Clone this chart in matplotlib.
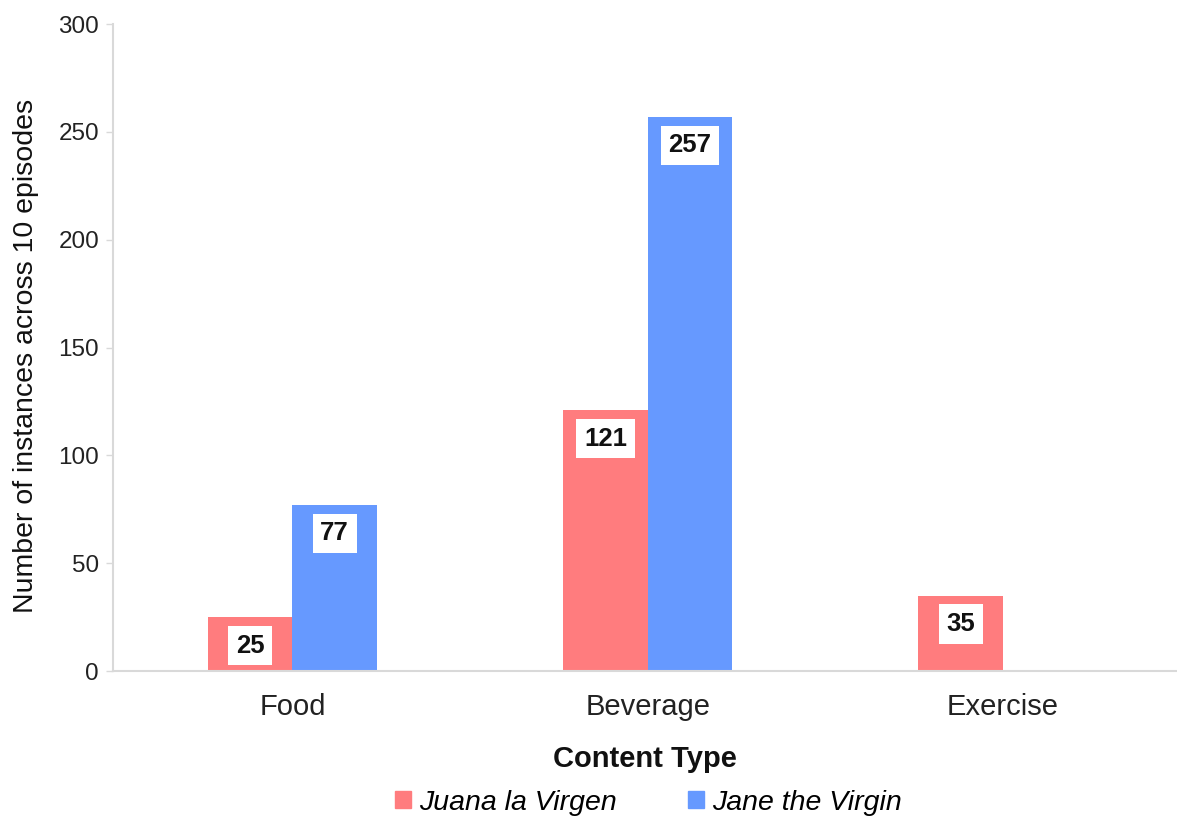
import matplotlib
matplotlib.use("Agg")
import matplotlib.pyplot as plt
import numpy as np
from matplotlib.patches import Patch

categories = ["Food", "Beverage", "Exercise"]
juana = [25, 121, 35]
jane = [77, 257, 0]
series_names = ["Juana la Virgen", "Jane the Virgin"]
yticks = [0, 50, 100, 150, 200, 250, 300]

red = "#FF7C7E"
blue = "#6699FF"

plt.rcParams['font.family'] = ['Liberation Sans', 'DejaVu Sans']

fig = plt.figure(figsize=(11.77, 8.21), dpi=100)
ax = fig.add_axes([0.096, 0.1827, 0.904, 0.788])

x = np.arange(len(categories))
w = 0.238
b1 = ax.bar(x - w / 2, juana, w, color=red)
b2 = ax.bar(x + w / 2, jane, w, color=blue)

for bars, vals in ((b1, juana), (b2, jane)):
    for rect, v in zip(bars, vals):
        if v <= 0:
            continue
        ax.annotate(str(v), (rect.get_x() + rect.get_width() / 2, v),
                    xytext=(0, -20.5), textcoords="offset points",
                    ha="center", va="center", fontsize=18.5, fontweight="bold",
                    color="#111111",
                    bbox=dict(boxstyle="square,pad=0.3", fc="white", ec="none"))

ax.set_xlim(-0.505, 2.49)
ax.set_ylim(0, 300)
ax.set_yticks(yticks)
ax.set_xticks(x)
ax.set_xticklabels(categories, fontsize=21, color="#222222")
ax.tick_params(axis="y", labelsize=17.5, colors="#222222", length=5, width=1,
               color="#D9D9D9", pad=5)
ax.tick_params(axis="x", length=0, pad=16)
for s in ("top", "right"):
    ax.spines[s].set_visible(False)
for s in ("left", "bottom"):
    ax.spines[s].set_color("#D9D9D9")
    ax.spines[s].set_linewidth(1.5)

ax.set_xlabel("Content Type", fontsize=21, fontweight="bold", color="#111111", labelpad=17)
ax.set_ylabel("Number of instances across 10 episodes", fontsize=20.5, color="#111111")
ax.yaxis.set_label_coords(-0.070, 0.487)

handles = [Patch(color=red, label=series_names[0]), Patch(color=blue, label=series_names[1])]
leg = fig.legend(handles=handles, loc="center", bbox_to_anchor=(0.551, 0.022), ncol=2,
                 frameon=False, prop={"size": 20.5, "style": "italic"},
                 handlelength=0.55, handleheight=0.55, handletextpad=0.3, columnspacing=2.5)

fig.savefig("out.png", dpi=100, facecolor="white")
